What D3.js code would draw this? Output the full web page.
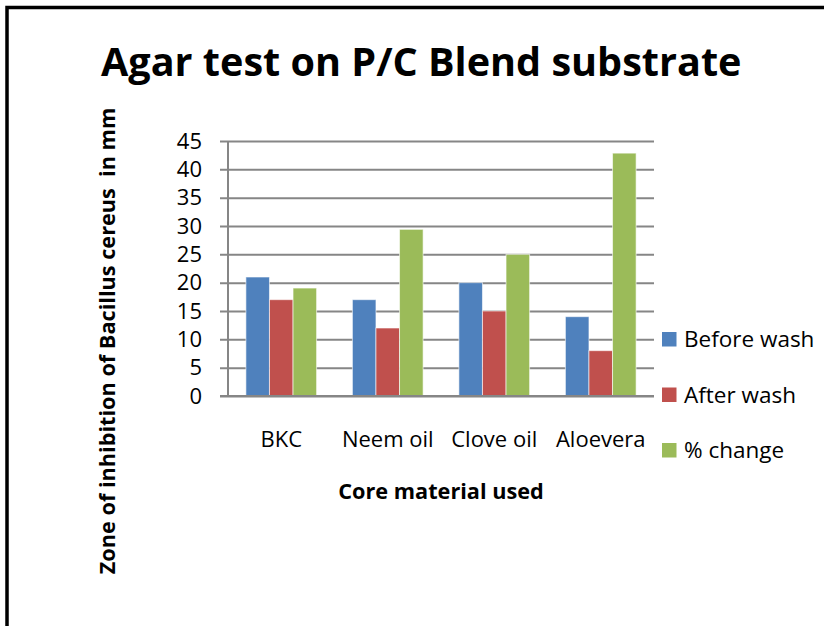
<!DOCTYPE html>
<html>
<head>
<meta charset="utf-8">
<script src="https://cdn.jsdelivr.net/npm/d3@7"></script>
<style>
  body { margin: 0; background: #fff; }
  svg { display: block; font-family: 'Open Sans', sans-serif; }
</style>
</head>
<body>
<svg></svg>
<script>
var categories = ['BKC', 'Neem oil', 'Clove oil', 'Aloevera'];
var seriesNames = ['Before wash', 'After wash', '% change'];
var beforeWash = [21, 17, 20, 14];
var afterWash = [17, 12, 15, 8];
var pctChange = [19.05, 29.41, 25, 42.86];
var yTicks = [0, 5, 10, 15, 20, 25, 30, 35, 40, 45];
var colors = ['#4f81bd', '#c0504d', '#9bbb59'];

var width = 824;
var height = 626;
var plotLeft = 228, plotRight = 654, plotTop = 141, plotBottom = 396;

var svg = d3.select('svg')
            .attr('width', width)
            .attr('height', height);

// frame round the slide
svg.append('rect')
    .attr('x', 7)
    .attr('y', 7.5)
    .attr('width', 1000)
    .attr('height', 1000)
    .attr('fill', 'none')
    .attr('stroke', '#000')
    .attr('stroke-width', 3.5);

var values = [beforeWash, afterWash, pctChange];
var rows = categories.map(function(c, i) {
  return { cat: c, vals: values.map(function(v, s) { return { s: s, v: v[i] }; }) };
});

var x0 = d3.scaleBand()
           .domain(categories)
           .range([plotLeft, plotRight])
           .paddingInner(0.336)
           .paddingOuter(0.168);

var x1 = d3.scaleBand()
           .domain(d3.range(seriesNames.length))
           .range([0, x0.bandwidth()]);

var y = d3.scaleLinear()
          .domain([0, 45])
          .range([plotBottom, plotTop]);

var yAxis = svg.append('g')
    .attr('transform', 'translate(' + plotLeft + ',0)')
    .call(d3.axisLeft(y).tickValues(yTicks).tickSize(-(plotRight - plotLeft)).tickPadding(26));

yAxis.select('.domain').remove();
yAxis.selectAll('line')
    .attr('x1', -8)
    .attr('stroke', '#868686')
    .attr('stroke-width', 2);
yAxis.selectAll('text')
    .attr('fill', '#000')
    .style('font-size', '22px')
    .style('font-family', "'Open Sans', sans-serif");

svg.append('line')
    .attr('x1', plotLeft).attr('x2', plotLeft)
    .attr('y1', plotTop).attr('y2', plotBottom)
    .attr('stroke', '#868686')
    .attr('stroke-width', 2);

var groups = svg.selectAll('.group')
    .data(rows)
    .enter()
    .append('g')
      .attr('class', 'group')
      .attr('transform', d => 'translate(' + x0(d.cat) + ',0)');

groups.selectAll('rect')
    .data(d => d.vals)
    .enter()
    .append('rect')
      .attr('x', d => x1(d.s))
      .attr('y', d => y(d.v))
      .attr('width', x1.bandwidth())
      .attr('height', d => y(0) - y(d.v))
      .attr('fill', d => colors[d.s])
      .attr('stroke', 'rgba(255,255,255,0.6)')
      .attr('stroke-width', 1);

// baseline drawn over the bars
svg.append('line')
    .attr('x1', plotLeft - 8).attr('x2', plotRight)
    .attr('y1', plotBottom).attr('y2', plotBottom)
    .attr('stroke', '#868686')
    .attr('stroke-width', 2);

svg.selectAll('.cat-label')
    .data(categories)
    .enter()
    .append('text')
      .attr('class', 'cat-label')
      .attr('x', d => x0(d) + x0.bandwidth() / 2)
      .attr('y', 447)
      .attr('text-anchor', 'middle')
      .style('font-size', '22px')
      .text(d => d);

svg.append('text')
    .text('Agar test on P/C Blend substrate')
    .attr('x', 101)
    .attr('y', 76)
    .style('font-size', '39.6px')
    .style('font-weight', 'bold');

svg.append('text')
    .text('Core material used')
    .attr('x', (plotLeft + plotRight) / 2)
    .attr('y', 499)
    .attr('text-anchor', 'middle')
    .style('font-size', '21.7px')
    .style('font-weight', 'bold');

svg.append('text')
    .text('Zone of inhibition of Bacillus cereus\u00a0 in mm')
    .attr('transform', 'translate(115,341) rotate(-90)')
    .attr('text-anchor', 'middle')
    .style('font-size', '21.7px')
    .style('font-weight', 'bold');

var legend = svg.selectAll('.legend')
    .data(seriesNames)
    .enter()
    .append('g')
      .attr('class', 'legend')
      .attr('transform', (d, i) => 'translate(662,' + (332 + i * 55.5) + ')');

legend.append('rect')
    .attr('width', 14.5)
    .attr('height', 14.5)
    .attr('fill', (d, i) => colors[i]);

legend.append('text')
    .attr('x', 22)
    .attr('y', 15)
    .style('font-size', '22.5px')
    .text(d => d);
</script>
</body>
</html>
